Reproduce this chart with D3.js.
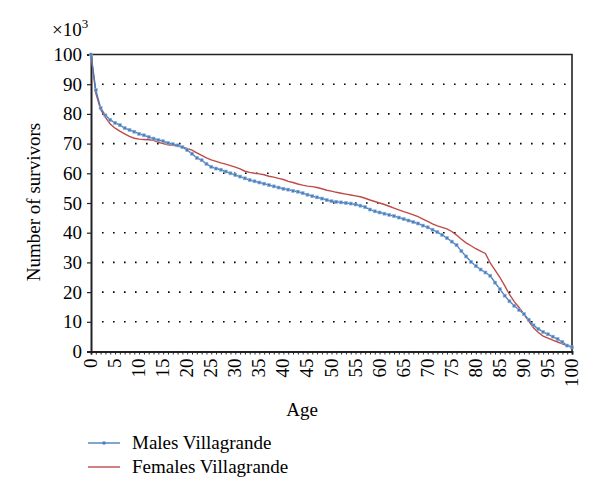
<!DOCTYPE html>
<html>
<head>
<meta charset="utf-8">
<script src="https://cdn.jsdelivr.net/npm/d3@7"></script>
<style>
  body { margin: 0; background: #fff; }
  text { font-family: "Liberation Serif", "DejaVu Serif", serif; fill: #000; }
</style>
</head>
<body>
<div id="chart"></div>
<script>
// survivors (thousands) by age 0..100
var ages = d3.range(0, 101);
var males = [100, 88, 82, 79.5, 78, 77, 76.2, 75.2, 74.6, 74, 73.3, 72.8, 72.2, 71.7, 71.2, 70.8, 70.2, 69.8, 69.4, 68.8,
    67.8, 66.6, 65.2, 64.4, 63.2, 62.2, 61.6, 61.2, 60.6, 60, 59.4, 58.9, 58.3, 57.7, 57.3, 56.9, 56.5, 56, 55.6, 55.2,
    54.8, 54.5, 54.1, 53.8, 53.3, 52.8, 52.3, 51.9, 51.5, 51, 50.6, 50.4, 50.2, 50, 49.8, 49.5, 49.1, 48.6, 47.8, 47.2,
    46.8, 46.4, 46, 45.6, 45.1, 44.6, 44.1, 43.6, 43.1, 42.4, 41.8, 41, 40.2, 39.3, 38.2, 37, 35.8, 33.8, 32, 30.2,
    28.8, 27.6, 26.6, 25.5, 23.2, 21, 18.8, 16.9, 15.4, 14, 12.6, 10.7, 8.8, 7.6, 6.6, 5.8, 5, 4.2, 3.2, 2, 1.4];
var females = [100, 87, 81.5, 78.8, 76.6, 75.2, 74.2, 73.3, 72.4, 71.8, 71.5, 71.4, 71.3, 71.1, 70.4, 70, 69.6, 69.4, 69.2, 68.8,
    68.4, 67.8, 66.9, 66, 65.2, 64.5, 64, 63.5, 63.1, 62.6, 62.1, 61.5, 60.7, 60.3, 60, 59.8, 59.5, 59, 58.7, 58.3,
    57.9, 57.3, 56.9, 56.4, 56, 55.7, 55.5, 55.2, 54.8, 54.3, 54, 53.6, 53.3, 53, 52.7, 52.4, 52.1, 51.6, 51, 50.5,
    50, 49.5, 48.9, 48.3, 47.7, 47.1, 46.6, 46, 45.4, 44.6, 43.8, 43, 42.3, 41.8, 41.3, 40.4, 39.2, 37.8, 36.6, 35.6,
    34.6, 33.8, 33, 29.8, 27.4, 25, 22.2, 19.2, 16.8, 14.8, 12.6, 10.2, 8, 6.4, 5.2, 4.5, 3.8, 3.2, 2.6, 2, 1.6];
var yTicks = [0, 10, 20, 30, 40, 50, 60, 70, 80, 90, 100];
var xLabels = d3.range(0, 101, 5);
var seriesNames = ["Males Villagrande", "Females Villagrande"];

var blue = "#4a7ebb", red = "#be4b48";
var fs = "19px";

var width = 600, height = 500;
var svg = d3.select("#chart").append("svg")
    .attr("width", width)
    .attr("height", height);

var x = d3.scaleLinear().domain([0, 100]).range([91, 572]);
var y = d3.scaleLinear().domain([0, 100]).range([351.5, 54.5]);

// dotted gridlines
svg.append("g")
    .selectAll("line")
    .data(yTicks.filter(d => d > 0 && d < 100))
    .join("line")
    .attr("x1", x(0) + 11)
    .attr("x2", x(100))
    .attr("y1", d => y(d))
    .attr("y2", d => y(d))
    .attr("stroke", "#000")
    .attr("stroke-width", 1.6)
    .attr("stroke-dasharray", "1.6,9.4");

// frame top/right
svg.append("path")
    .attr("d", "M" + x(0) + "," + y(100) + "H" + x(100) + "V" + y(0))
    .attr("fill", "none")
    .attr("stroke", "#222")
    .attr("stroke-width", 1.6);

// y axis
var yAxis = svg.append("g")
    .attr("transform", "translate(" + x(0) + ",0)")
    .call(d3.axisLeft(y).tickValues(yTicks).tickSize(4).tickPadding(5));
yAxis.select(".domain").attr("stroke", "#222").attr("stroke-width", 2);
yAxis.selectAll(".tick line").attr("stroke", "#222").attr("stroke-width", 1.2);
yAxis.selectAll("text").style("font-size", fs).style("font-family", "Liberation Serif");

// x axis, minor ticks each year
var xAxis = svg.append("g")
    .attr("transform", "translate(0," + y(0) + ")")
    .call(d3.axisBottom(x).tickValues(ages).tickSize(3).tickFormat(""));
xAxis.select(".domain").attr("stroke", "#222").attr("stroke-width", 2);
xAxis.selectAll(".tick line").attr("stroke", "#222").attr("stroke-width", 1);

svg.append("g")
    .selectAll("text")
    .data(xLabels)
    .join("text")
    .attr("transform", d => "translate(" + (x(d) + 6) + "," + (y(0) + 7) + ") rotate(-90)")
    .attr("text-anchor", "end")
    .style("font-size", fs)
    .text(d => d);

// multiplier
var mult = svg.append("text")
    .attr("x", 52)
    .attr("y", 36)
    .style("font-size", fs)
    .text("×10");
mult.append("tspan").attr("dy", -8).style("font-size", "13px").text("3");

// axis titles
svg.append("text")
    .attr("transform", "translate(40,202) rotate(-90)")
    .attr("text-anchor", "middle")
    .style("font-size", fs)
    .text("Number of survivors");

svg.append("text")
    .attr("x", 302)
    .attr("y", 416)
    .attr("text-anchor", "middle")
    .style("font-size", fs)
    .text("Age");

// lines
var line = d3.line()
    .x((d, i) => x(ages[i]))
    .y(d => y(d));

svg.append("path")
    .datum(females)
    .attr("d", line)
    .attr("fill", "none")
    .attr("stroke", red)
    .attr("stroke-width", 1.4);

svg.append("path")
    .datum(males)
    .attr("d", line)
    .attr("fill", "none")
    .attr("stroke", blue)
    .attr("stroke-width", 1.4);

svg.append("g")
    .selectAll("rect")
    .data(males)
    .join("rect")
    .attr("x", (d, i) => x(ages[i]) - 1.5)
    .attr("y", d => y(d) - 1.5)
    .attr("width", 3)
    .attr("height", 3)
    .attr("fill", blue)
    .attr("stroke", "#8fb3dd")
    .attr("stroke-width", 0.6);

// legend
var legend = svg.append("g");
var colors = [blue, red];
seriesNames.forEach(function(name, i) {
    var ly = 443 + i * 24;
    legend.append("line")
        .attr("x1", 88).attr("x2", 120)
        .attr("y1", ly).attr("y2", ly)
        .attr("stroke", colors[i])
        .attr("stroke-width", 1.4);
    if (i == 0) {
        legend.append("rect")
            .attr("x", 102.5).attr("y", ly - 1.5)
            .attr("width", 3).attr("height", 3)
            .attr("fill", blue);
    }
    legend.append("text")
        .attr("x", 132)
        .attr("y", ly + 6)
        .style("font-size", fs)
        .text(name);
});
</script>
</body>
</html>
